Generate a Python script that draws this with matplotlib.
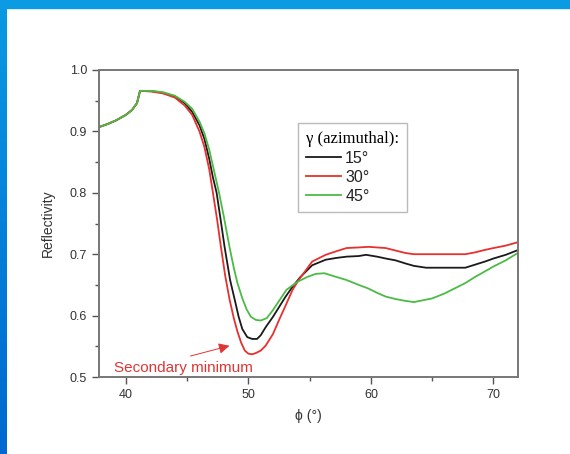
import numpy as np
import matplotlib.pyplot as plt
from matplotlib.ticker import MultipleLocator
from matplotlib.colors import LinearSegmentedColormap

plt.rcParams['font.family'] = ['Liberation Sans', 'DejaVu Sans']

# reflectivity vs incidence angle for three azimuthal angles
phi_15 = [37.8, 38.5, 39.2, 40.0, 40.5, 40.9, 41.15, 42.0, 43.0, 44.0, 44.8, 45.4,
          46.0, 46.4, 46.8, 47.1, 47.4, 47.7, 48.05, 48.5, 48.9, 49.2, 49.5, 49.9,
          50.3, 50.7, 51.0, 51.4, 52.0, 52.5, 53.0, 53.6, 54.2, 55.2, 56.3, 57.2,
          58.0, 59.0, 59.6, 60.5, 61.2, 62.0, 62.8, 63.5, 64.5, 65.5, 66.5, 67.7,
          68.5, 69.3, 70.0, 71.0, 71.9]
r_15 = [0.907, 0.912, 0.918, 0.927, 0.935, 0.946, 0.966, 0.966, 0.963, 0.957, 0.946, 0.932,
        0.910, 0.888, 0.855, 0.825, 0.800, 0.760, 0.712, 0.658, 0.624, 0.598, 0.578, 0.565,
        0.562, 0.562, 0.568, 0.581, 0.598, 0.614, 0.630, 0.647, 0.662, 0.682, 0.691, 0.694,
        0.696, 0.697, 0.699, 0.696, 0.693, 0.690, 0.685, 0.681, 0.678, 0.678, 0.678, 0.678,
        0.683, 0.688, 0.693, 0.699, 0.706]

phi_30 = [37.8, 38.5, 39.2, 40.0, 40.5, 40.9, 41.15, 42.0, 43.0, 44.0, 44.8, 45.4,
          46.0, 46.4, 46.8, 47.1, 47.45, 47.75, 48.1, 48.45, 48.8, 49.1, 49.4, 49.7,
          50.0, 50.3, 50.6, 51.0, 51.4, 52.0, 52.5, 53.0, 53.6, 54.1, 55.2, 56.3,
          57.2, 58.0, 59.0, 59.8, 60.5, 61.2, 62.0, 62.8, 63.5, 65.0, 66.5, 67.7,
          68.5, 69.3, 70.0, 71.0, 71.9]
r_30 = [0.907, 0.912, 0.918, 0.927, 0.935, 0.946, 0.966, 0.965, 0.962, 0.955, 0.942, 0.927,
        0.900, 0.875, 0.838, 0.800, 0.755, 0.712, 0.665, 0.627, 0.596, 0.574, 0.556, 0.543,
        0.538, 0.537, 0.539, 0.543, 0.551, 0.570, 0.593, 0.615, 0.642, 0.658, 0.688, 0.699,
        0.705, 0.710, 0.711, 0.712, 0.711, 0.710, 0.706, 0.702, 0.700, 0.700, 0.700, 0.700,
        0.703, 0.707, 0.710, 0.714, 0.719]

phi_45 = [37.8, 38.5, 39.2, 40.0, 40.5, 40.9, 41.15, 42.0, 43.0, 44.0, 44.8, 45.4,
          46.0, 46.4, 46.8, 47.2, 47.6, 48.0, 48.45, 48.8, 49.1, 49.5, 49.85, 50.2,
          50.6, 51.0, 51.5, 52.0, 52.5, 53.1, 54.0, 54.8, 55.5, 56.2, 57.0, 58.0,
          59.0, 59.8, 60.5, 61.2, 62.0, 62.8, 63.5, 64.5, 65.0, 66.0, 67.0, 67.7,
          68.5, 69.3, 70.0, 71.0, 71.9]
r_45 = [0.907, 0.912, 0.918, 0.927, 0.935, 0.946, 0.966, 0.966, 0.964, 0.958, 0.948, 0.937,
        0.916, 0.897, 0.870, 0.835, 0.800, 0.760, 0.712, 0.678, 0.653, 0.628, 0.610, 0.598,
        0.593, 0.592, 0.596, 0.609, 0.624, 0.642, 0.655, 0.663, 0.668, 0.669, 0.664, 0.658,
        0.650, 0.644, 0.637, 0.631, 0.627, 0.624, 0.622, 0.626, 0.628, 0.636, 0.646, 0.653,
        0.663, 0.672, 0.680, 0.690, 0.701]

labels = ['15\u00b0', '30\u00b0', '45\u00b0']
colors = ['#1a1a1a', '#e8302e', '#4cbb45']

fig = plt.figure(figsize=(5.7, 4.54), dpi=100)

# slide frame: top bar and left gradient stripe
fig.patches.append(plt.Rectangle((0, 1 - 8 / 454), 1, 8 / 454, transform=fig.transFigure,
                                 color='#0a9be2', zorder=0))
stripe = fig.add_axes([0, 0, 7 / 570, 1 - 8 / 454])
grad = LinearSegmentedColormap.from_list('stripe', ['#0a98e2', '#0068d0'])
stripe.imshow(np.linspace(0, 1, 100).reshape(-1, 1), aspect='auto', cmap=grad)
stripe.axis('off')

ax = fig.add_axes([99 / 570, 77 / 454, 419 / 570, 307 / 454])
for x, r, lab, c in zip([phi_15, phi_30, phi_45], [r_15, r_30, r_45], labels, colors):
    ax.plot(x, r, color=c, lw=1.3, label=lab)

ax.set_xlim(37.8, 72)
ax.set_ylim(0.5, 1.0)
ax.xaxis.set_major_locator(MultipleLocator(10))
ax.xaxis.set_minor_locator(MultipleLocator(5))
ax.yaxis.set_major_locator(MultipleLocator(0.1))
ax.yaxis.set_minor_locator(MultipleLocator(0.05))
ax.yaxis.set_major_formatter(plt.FormatStrFormatter('%.1f'))
ax.tick_params(which='major', length=5, width=1.0, color='#555555', labelsize=9,
               labelcolor='#333333')
ax.tick_params(which='minor', length=3, width=1.0, color='#555555')
for s in ax.spines.values():
    s.set_color('#777777')
    s.set_linewidth(1.4)

ax.set_xlabel('\u03d5 (\u00b0)', fontsize=10, color='#333333', labelpad=6)
ax.set_ylabel('Reflectivity', fontsize=10, color='#333333', labelpad=11)

leg = ax.legend(loc='upper left', bbox_to_anchor=(0.475, 0.827), fontsize=11.5,
                title='\u03b3 (azimuthal):', frameon=True, fancybox=False,
                borderaxespad=0, handlelength=2.2, handletextpad=0.25,
                borderpad=0.5, labelspacing=0.25)
leg._legend_box.align = 'left'
leg.get_title().set_fontfamily(['Liberation Serif', 'DejaVu Serif'])
leg.get_title().set_fontsize(12)
leg.get_frame().set_edgecolor('#aaaaaa')
leg.get_frame().set_linewidth(1.0)
for t in leg.get_texts():
    t.set_color('#222222')

ax.text(44.72, 0.514, 'Secondary minimum', color='#e03535', fontsize=11,
        ha='center', va='center')
ax.annotate('', xy=(48.67, 0.552), xytext=(45.05, 0.533),
            arrowprops=dict(arrowstyle='-|>', color='#e03535', lw=0.7,
                            mutation_scale=16))

fig.savefig('out.png', dpi=100)
